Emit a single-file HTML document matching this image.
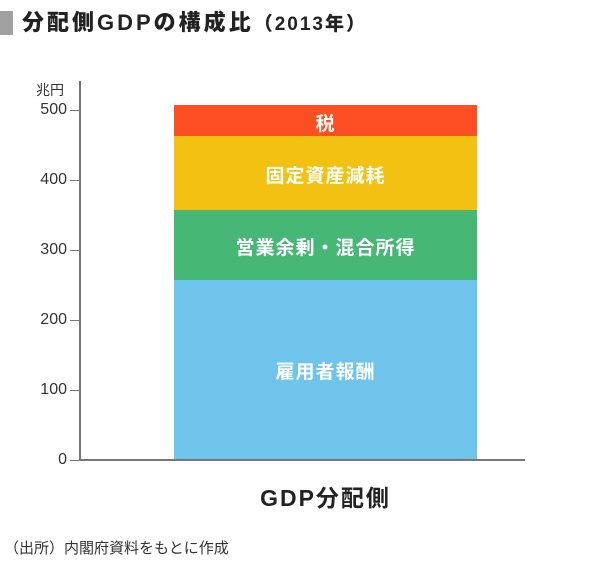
<!DOCTYPE html>
<html><head><meta charset="utf-8"><style>
body{margin:0;width:600px;height:582px;background:#fff;font-family:"Liberation Sans","Noto Sans CJK JP",sans-serif;position:relative;overflow:hidden}
.a{position:absolute}
.t{color:#333;font-size:16px;text-align:right;width:44px;left:23px;line-height:16px}
.tk{left:70px;width:10px;height:1px;background:#777}
.lbl{color:#fff;font-weight:bold;font-size:19px;text-align:center;left:174px;width:303px;letter-spacing:1px}
</style></head><body>
<div class="a" style="left:0;top:11px;width:13px;height:24px;background:#a0a0a0"></div>
<div class="a" style="left:22px;top:8px;font-size:22px;font-weight:900;color:#222;line-height:30px;letter-spacing:3px">分配側GDPの構成比<span style="font-size:19px;letter-spacing:2px">（2013年）</span></div>
<div class="a" style="left:36px;top:80px;font-size:14px;color:#333">兆円</div>
<div class="a" style="left:79px;top:81px;width:2px;height:380px;background:#777"></div>
<div class="a" style="left:79px;top:459px;width:446px;height:2px;background:#777"></div>
<div class="a t" style="top:102px">500</div><div class="a tk" style="top:110px"></div>
<div class="a t" style="top:172px">400</div><div class="a tk" style="top:180px"></div>
<div class="a t" style="top:242px">300</div><div class="a tk" style="top:250px"></div>
<div class="a t" style="top:312px">200</div><div class="a tk" style="top:320px"></div>
<div class="a t" style="top:382px">100</div><div class="a tk" style="top:390px"></div>
<div class="a t" style="top:452px">0</div><div class="a tk" style="top:460px"></div>
<div class="a" style="left:174px;top:105px;width:303px;height:31px;background:#fe4e24"></div>
<div class="a" style="left:174px;top:136px;width:303px;height:74px;background:#f2c112"></div>
<div class="a" style="left:174px;top:210px;width:303px;height:70px;background:#47b776"></div>
<div class="a" style="left:174px;top:280px;width:303px;height:179px;background:#6ec4ea"></div>
<div class="a lbl" style="top:109px">税</div>
<div class="a lbl" style="top:161px">固定資産減耗</div>
<div class="a lbl" style="top:233px">営業余剰・混合所得</div>
<div class="a lbl" style="top:357px">雇用者報酬</div>
<div class="a" style="left:174px;width:303px;text-align:center;top:479px;font-size:23px;font-weight:bold;color:#222;letter-spacing:2px">GDP分配側</div>
<div class="a" style="left:4px;top:537px;font-size:15px;color:#333">（出所）内閣府資料をもとに作成</div>
</body></html>
